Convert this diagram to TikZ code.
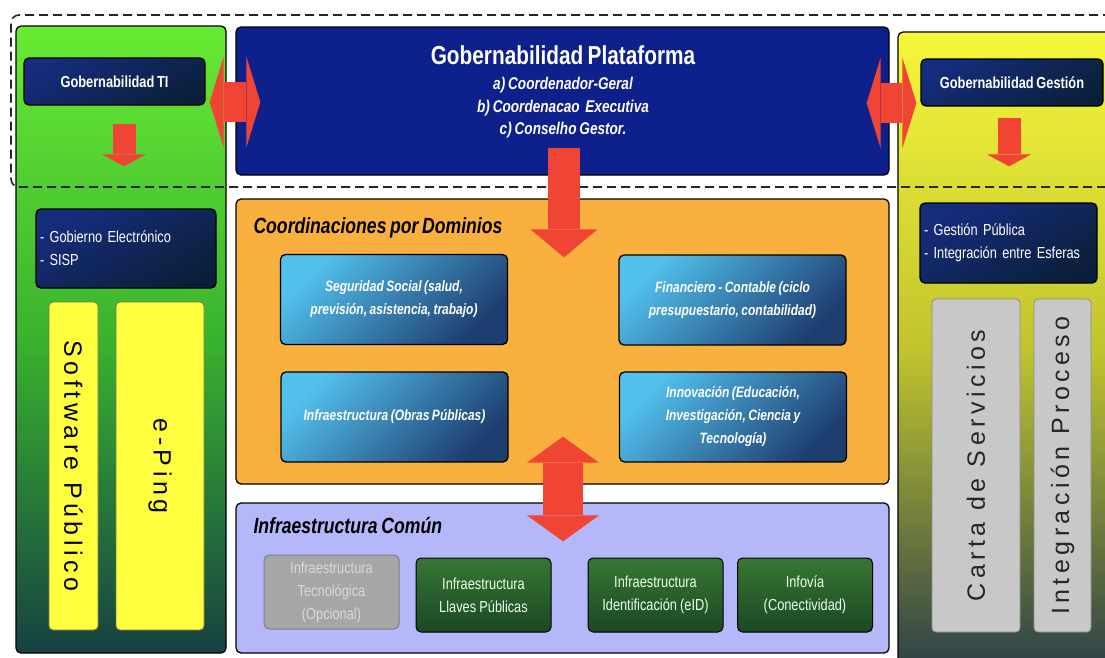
\documentclass[tikz,border=0pt]{standalone}
\usepackage{fontspec}
\setmainfont{Liberation Sans}
\newfontfamily\narrowsf{Liberation Sans}[FakeStretch=0.8, WordSpace=0.75]
\newfontfamily\widesf{Liberation Sans}[LetterSpace=18]
\usetikzlibrary{arrows.meta, calc}
\definecolor{arrowred}{RGB}{240,68,52}
\definecolor{greentop}{RGB}{104,234,52}
\definecolor{greenmid}{RGB}{58,178,46}
\definecolor{greenbot}{RGB}{22,66,66}
\definecolor{yellowtop}{RGB}{246,246,58}
\definecolor{yellowmid}{RGB}{192,196,46}
\definecolor{yellowbot}{RGB}{44,64,72}
\definecolor{platblue}{RGB}{14,32,140}
\definecolor{navytop}{RGB}{22,44,125}
\definecolor{navybot}{RGB}{10,32,58}
\definecolor{orangepanel}{RGB}{250,176,62}
\definecolor{lavender}{RGB}{180,184,250}
\definecolor{steeltop}{RGB}{82,192,236}
\definecolor{steelbot}{RGB}{30,62,112}
\definecolor{infratop}{RGB}{56,118,52}
\definecolor{infrabot}{RGB}{26,72,36}
\definecolor{optgrey}{RGB}{166,166,166}
\definecolor{bargrey}{RGB}{200,200,200}
\definecolor{baryellow}{RGB}{255,255,64}
\newcommand{\dgtitle}{\narrowsf\bfseries\fontsize{26}{30}\selectfont}
\newcommand{\dgitem}{\narrowsf\bfseries\itshape\fontsize{17}{22.5}\selectfont}
\newcommand{\dghead}{\narrowsf\bfseries\itshape\fontsize{22}{26}\selectfont}
\newcommand{\dgbold}{\narrowsf\bfseries\fontsize{16}{20}\selectfont}
\newcommand{\dglist}{\narrowsf\fontsize{16}{23}\selectfont\spaceskip=0.2em plus 0.05em}
\newcommand{\dgsteel}{\narrowsf\bfseries\itshape\fontsize{15}{23}\selectfont}
\newcommand{\dgbar}{\widesf\fontsize{25}{30}\selectfont}

\begin{document}
\begin{tikzpicture}[x=1pt, y=-1pt,
  panel/.style={draw=black, line width=1.3pt, rounded corners=5pt, inner sep=0pt},
  navybox/.style={panel, top color=navytop, bottom color=navybot, shading angle=30, text=white},
  steelbox/.style={panel, top color=steeltop, bottom color=steelbot, shading angle=45, text=white,
    align=center, font=\dgsteel, minimum width=227pt, minimum height=90pt},
  infrabox/.style={panel, line width=1pt, top color=infratop, bottom color=infrabot, text=white!92!green,
    align=center, font=\dglist, minimum width=135pt, minimum height=74pt},
  yellowbar/.style={draw=black!60!yellow, line width=0.8pt, fill=baryellow, rounded corners=4pt, font=\dgbar},
  greybar/.style={draw=black!45, line width=0.8pt, fill=bargrey, rounded corners=4pt, font=\dgbar, text=black!85},
  smallarrow/.style={arrowred, line width=23pt, -{Triangle[width=44pt, length=12pt, line width=0pt]}},
  bigarrow/.style={arrowred, line width=32pt, -{Triangle[width=67pt, length=28pt, line width=0pt]}},
  twinarrow/.style={arrowred, line width=40pt,
    {Triangle[width=91pt, length=14pt, line width=0pt]}-{Triangle[width=91pt, length=14pt, line width=0pt]}},
  updownarrow/.style={arrowred, line width=40pt,
    {Triangle[width=72pt, length=26pt, line width=0pt]}-{Triangle[width=72pt, length=26pt, line width=0pt]}}]

  % Background
  \fill[white] (0,0) rectangle (1105,657);
  \useasboundingbox (0,0) rectangle (1105,657);
  \clip (0,0) rectangle (1105,657);

  % Side panels
  \node[panel, top color=greentop, bottom color=greenbot, middle color=greenmid,
    minimum width=210pt, minimum height=627pt] (tipanel) at (121,339.5) {};
  \node[panel, top color=yellowtop, bottom color=yellowbot, middle color=yellowmid,
    minimum width=222pt, minimum height=638pt] (gespanel) at (1009,351) {};

  % Central panels
  \node[panel, fill=platblue, minimum width=653pt, minimum height=148pt] (plat) at (562.5,101) {};
  \node[panel, fill=orangepanel, minimum width=653pt, minimum height=285pt] (coord) at (562.5,341.5) {};
  \node[panel, fill=lavender, minimum width=653pt, minimum height=150pt] (infra) at (562.5,578) {};

  % Dashed frame
  \draw[black!85, line width=1.6pt, dash pattern=on 9pt off 5pt, rounded corners=8pt]
    (1112,15) -- (11,15) -- (11,187) -- (1112,187);

  % Plataforma
  \node[text=white, font=\dgtitle] (platname) at (563,55) {Gobernabilidad Plataforma};
  \node[text=white, font=\dgitem, align=center] (platlist) at (563,108)
    {a) Coordenador-Geral\\b) Coordenacao\ \ Executiva\\c) Conselho Gestor.};

  % Left column
  \node[navybox, minimum width=181pt, minimum height=47pt, font=\dgbold] (gobti) at (114.5,81.5) {Gobernabilidad TI};
  \node[navybox, text width=172pt, inner xsep=4pt, minimum height=79pt, align=left, font=\dglist]
    (gobelec) at (126,248.5) {- Gobierno Electrónico\\- SISP};
  \node[yellowbar, minimum width=328pt, minimum height=49pt, rotate=-90] (swpub) at (73.5,466) {Software Público};
  \node[yellowbar, minimum width=328pt, minimum height=88pt, rotate=-90] (eping) at (160,466) {e-Ping};

  % Right column
  \node[navybox, minimum width=182pt, minimum height=47pt, font=\dgbold] (gobges) at (1012,82.5) {Gobernabilidad Gestión};
  \node[navybox, text width=169pt, inner xsep=4pt, minimum height=80pt, align=left, font=\dglist]
    (gespub) at (1008.5,243) {- Gestión Pública\\- Integración entre Esferas};
  \node[greybar, minimum width=333pt, minimum height=88pt, rotate=90] (carta) at (976,465.5) {Carta de Servicios};
  \node[greybar, minimum width=333pt, minimum height=57pt, rotate=90] (integ) at (1062.5,465.5) {Integración Proceso};

  % Coordinaciones por Dominios
  \node[anchor=west, font=\dghead] (coordtitle) at (250,228) {Coordinaciones por Dominios};
  \node[steelbox] (segsoc) at (394,299.5) {Seguridad Social (salud,\\previsión, asistencia, trabajo)};
  \node[steelbox] (financ) at (732.5,300) {Financiero - Contable (ciclo\\presupuestario, contabilidad)};
  \node[steelbox] (obras) at (394.5,417) {Infraestructura (Obras Públicas)};
  \node[steelbox] (innov) at (733,417) {Innovación (Educación,\\Investigación, Ciencia y\\Tecnología)};

  % Infraestructura Comun
  \node[anchor=west, font=\dghead] (infratitle) at (250,526) {Infraestructura Común};
  \node[infrabox, draw=black!50, top color=optgrey, bottom color=optgrey, text=black!15] (tecno) at (331.5,592) {Infraestructura\\Tecnológica\\(Opcional)};
  \node[infrabox] (llaves) at (483.5,595) {Infraestructura\\Llaves Públicas};
  \node[infrabox] (ident) at (655.5,595) {Infraestructura\\Identificación (eID)};
  \node[infrabox] (infovia) at (805,595) {Infovía\\(Conectividad)};

  % Arrows
  \draw[smallarrow] ($(gobti.south)+(9.5,18)$) -- ($(gobelec.north)+(-2,-42)$);
  \draw[smallarrow] ($(gobges.south)+(-3,11)$) -- ($(gespub.north)+(0.5,-36)$);
  \draw[bigarrow] ($(plat.south)+(1.5,-28)$) -- ($(coord.north)+(1.5,59)$);
  \draw[twinarrow] ($(gobti.east |- plat.west)+(4,1)$) -- ($(plat.west)+(25,1)$);
  \draw[twinarrow] ($(plat.east)+(-23,2)$) -- ($(gobges.west |- plat.east)+(-4,2)$);
  \draw[updownarrow] ($(coord.south)+(0.5,-48)$) -- ($(infra.north)+(0.5,39)$);
\end{tikzpicture}
\end{document}
